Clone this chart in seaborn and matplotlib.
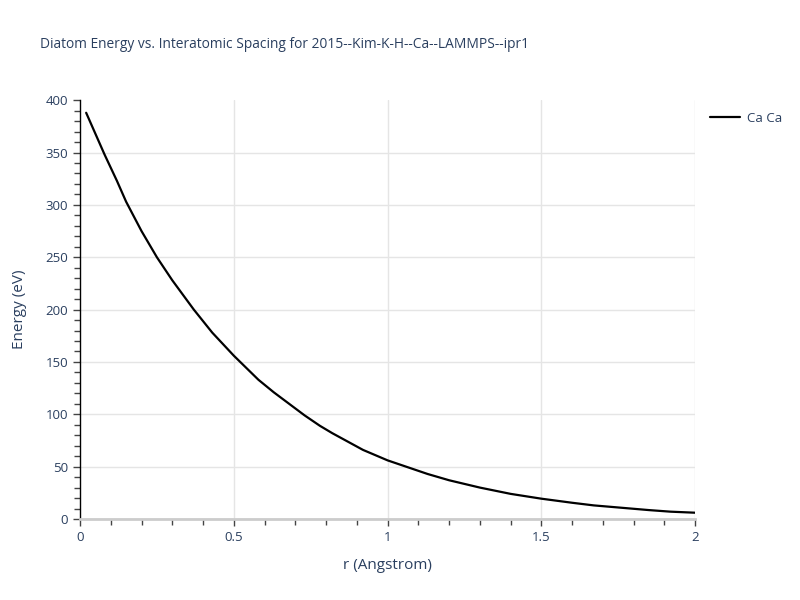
import matplotlib
matplotlib.use("Agg")
import matplotlib.pyplot as plt
import pandas as pd
import seaborn as sns
from matplotlib.ticker import MultipleLocator, FuncFormatter

# values
r_vals = [0.02, 0.05, 0.08, 0.12, 0.15, 0.2, 0.25, 0.3, 0.37, 0.43,
          0.5, 0.58, 0.63, 0.68, 0.73, 0.78, 0.82, 0.92, 1.0, 1.07,
          1.13, 1.2, 1.3, 1.4, 1.5, 1.6, 1.67, 1.75, 1.85, 1.92, 2.0]
energy_vals = [388, 368, 348, 323, 303, 275, 250, 228, 200, 178,
               156, 133, 121, 110, 99, 89, 82, 66, 56, 49,
               43, 37, 30, 24, 19.4, 15.5, 13, 11, 8.5, 7, 6]
pair_name = "Ca Ca"
title = "Diatom Energy vs. Interatomic Spacing for 2015--Kim-K-H--Ca--LAMMPS--ipr1"

sns.set_style("white")
plt.rcParams['font.family'] = ['Open Sans', 'DejaVu Sans']

txt = "#2a3f5f"
grid_c = "#e5e5e5"

df = pd.DataFrame({"r": r_vals, "E": energy_vals, "pair": pair_name})

fig = plt.figure(figsize=(8, 6), dpi=100)
ax = fig.add_axes([0.1, 0.135, 0.769, 0.698])

sns.lineplot(data=df, x="r", y="E", hue="pair", palette=["black"],
             linewidth=1.6, ax=ax, legend=True)

ax.set_xlim(0, 2)
ax.set_ylim(0, 400)
ax.xaxis.set_major_locator(MultipleLocator(0.5))
ax.xaxis.set_minor_locator(MultipleLocator(0.1))
ax.yaxis.set_major_locator(MultipleLocator(50))
ax.yaxis.set_minor_locator(MultipleLocator(10))
ax.xaxis.set_major_formatter(FuncFormatter(lambda v, p: f"{v:g}"))

ax.grid(True, which="major", color=grid_c, linewidth=1)
ax.set_axisbelow(True)
# no gridlines on the outer edges (like the reference)
for t in ax.yaxis.get_major_ticks():
    if t.get_loc() >= 400:
        t.gridline.set_visible(False)
for t in ax.xaxis.get_major_ticks():
    if t.get_loc() >= 2 or t.get_loc() <= 0:
        t.gridline.set_visible(False)

for s in ["top", "right"]:
    ax.spines[s].set_visible(False)
ax.spines["left"].set_color("black")
ax.spines["left"].set_linewidth(1)
ax.spines["bottom"].set_color("#cccccc")
ax.spines["bottom"].set_linewidth(2)

ax.tick_params(axis="both", which="both", bottom=True, left=True,
               direction="out", color="#444444", width=1)
ax.tick_params(axis="both", which="major", length=5,
               labelcolor=txt, labelsize=9.5)
ax.tick_params(axis="both", which="minor", length=4)

ax.set_xlabel("r (Angstrom)", fontsize=11, color=txt, labelpad=10)
ax.set_ylabel("Energy (eV)", fontsize=11, color=txt, labelpad=13)

fig.text(40 / 800, 1 - 45 / 600, title, fontsize=9.9, color=txt,
         ha="left", va="center")

handles, labels = ax.get_legend_handles_labels()
ax.legend(handles, labels, loc="upper left", bbox_to_anchor=(1.005, 1.0),
          frameon=False, fontsize=9.5, labelcolor=txt, handlelength=2.3,
          handletextpad=0.5)

fig.savefig("out.png", dpi=100)
